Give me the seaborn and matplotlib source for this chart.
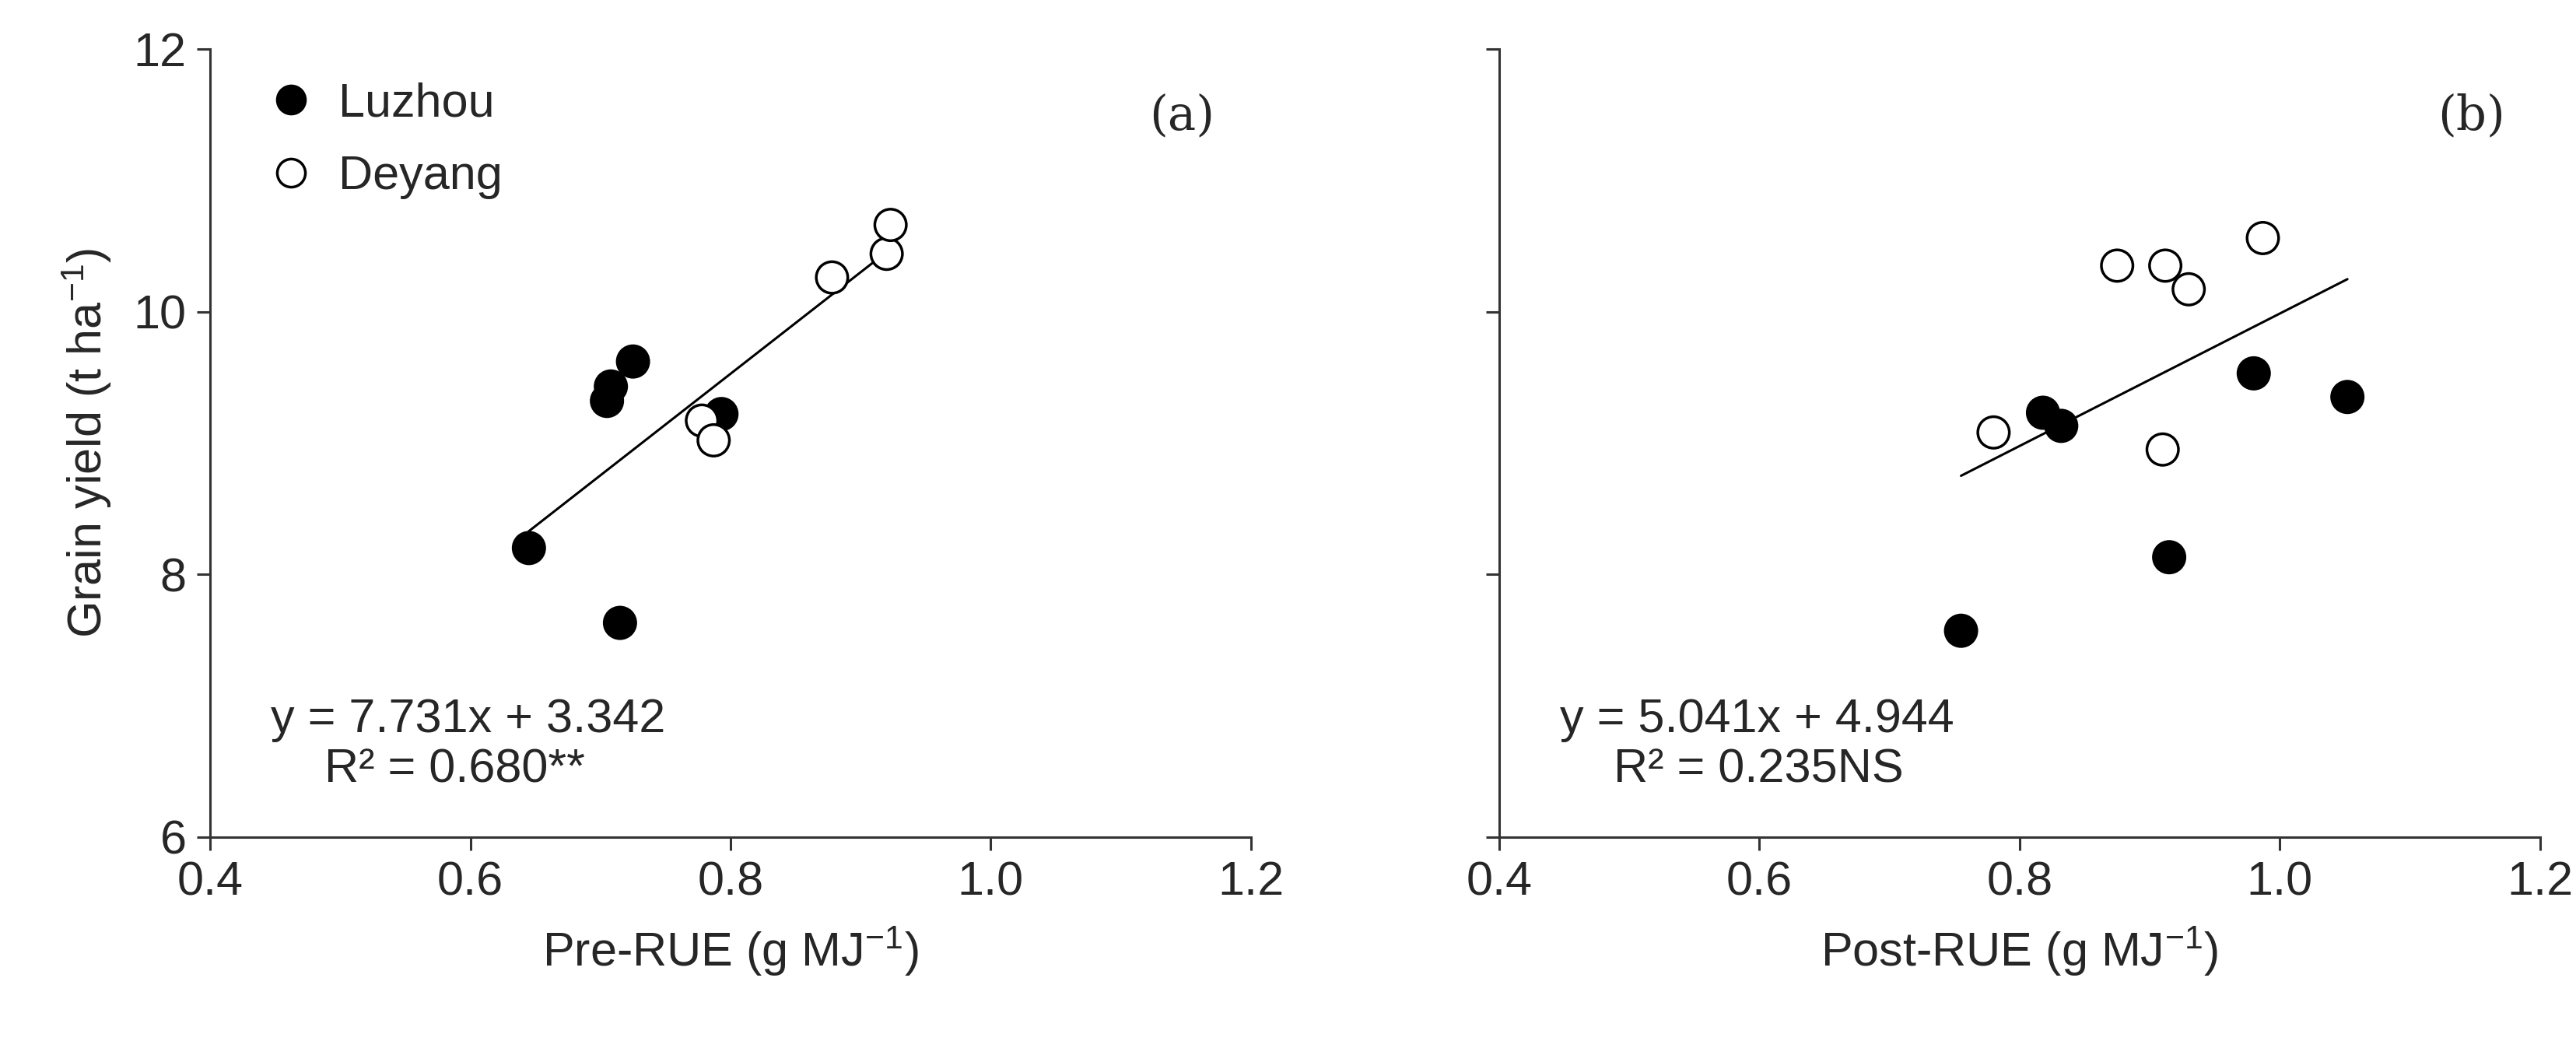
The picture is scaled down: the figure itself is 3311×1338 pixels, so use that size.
import numpy as np
import pandas as pd
import seaborn as sns
import matplotlib.pyplot as plt
from matplotlib.lines import Line2D

sns.set_style("ticks")
plt.rcParams["font.family"] = ["Liberation Sans", "DejaVu Sans"]
plt.rcParams["mathtext.default"] = "regular"

# panel (a): Pre-RUE
pre_luzhou_x = [0.645, 0.705, 0.708, 0.725, 0.793, 0.715]
pre_luzhou_y = [8.20, 9.32, 9.43, 9.62, 9.22, 7.63]
pre_deyang_x = [0.778, 0.787, 0.878, 0.920, 0.923]
pre_deyang_y = [9.17, 9.02, 10.26, 10.44, 10.66]
pre_fit = (7.731, 3.342)

# panel (b): Post-RUE
post_luzhou_x = [0.755, 0.818, 0.832, 0.915, 0.980, 1.052]
post_luzhou_y = [7.57, 9.23, 9.13, 8.13, 9.53, 9.35]
post_deyang_x = [0.780, 0.875, 0.912, 0.930, 0.987, 0.910]
post_deyang_y = [9.08, 10.35, 10.35, 10.17, 10.56, 8.95]
post_fit = (5.041, 4.944)

x_ticks = [0.4, 0.6, 0.8, 1.0, 1.2]
y_ticks = [6, 8, 10, 12]

fs = 44
fig = plt.figure(figsize=(33.11, 13.38), dpi=100)
ax_a = fig.add_axes([0.0816, 0.196, 0.404, 0.757])
ax_b = fig.add_axes([0.582, 0.196, 0.404, 0.757])


def draw(ax, lx, ly, dx, dy, fit, xlabel, tag, eq, r2):
    df = pd.concat([
        pd.DataFrame({"x": lx, "y": ly, "site": "Luzhou"}),
        pd.DataFrame({"x": dx, "y": dy, "site": "Deyang"}),
    ])
    allx = np.array(lx + dx)
    xs = np.array([allx.min(), allx.max()])
    ax.plot(xs, fit[0] * xs + fit[1], color="black", lw=2.2, zorder=1)
    sns.scatterplot(data=df, x="x", y="y", hue="site", palette={"Luzhou": "black", "Deyang": "white"},
                    edgecolor="black", linewidth=2.5, s=850, legend=False, ax=ax, zorder=3)
    ax.set_xlim(0.4, 1.2)
    ax.set_ylim(6, 12)
    ax.set_xticks(x_ticks)
    ax.set_xticklabels([f"{t:.1f}" for t in x_ticks])
    ax.set_yticks(y_ticks)
    for s in ["top", "right"]:
        ax.spines[s].set_visible(False)
    for s in ["left", "bottom"]:
        ax.spines[s].set_linewidth(2.2)
        ax.spines[s].set_color("#333333")
    ax.tick_params(direction="out", length=12, width=2.2, color="#333333", labelsize=fs, pad=10)
    ax.set_xlabel(xlabel, fontsize=fs, labelpad=18)
    ax.text(0.934, 0.915, tag, transform=ax.transAxes, fontsize=fs, ha="center", va="center",
            family=["DejaVu Serif"])
    ax.text(0.058, 0.148, eq, transform=ax.transAxes, fontsize=fs, ha="left", va="center")
    ax.text(0.11, 0.085, r2, transform=ax.transAxes, fontsize=fs, ha="left", va="center")


draw(ax_a, pre_luzhou_x, pre_luzhou_y, pre_deyang_x, pre_deyang_y, pre_fit,
     "Pre-RUE (g MJ$^{-1}$)", "(a)", "y = 7.731x + 3.342", "R² = 0.680**")
draw(ax_b, post_luzhou_x, post_luzhou_y, post_deyang_x, post_deyang_y, post_fit,
     "Post-RUE (g MJ$^{-1}$)", "(b)", "y = 5.041x + 4.944", "R² = 0.235NS")
ax_a.set_ylabel("Grain yield (t ha$^{-1}$)", fontsize=fs, labelpad=18)
ax_b.set_ylabel("")
ax_b.set_yticklabels([])

handles = [
    Line2D([], [], marker="o", ls="", markersize=26, markerfacecolor="black", markeredgecolor="black", mew=2.5),
    Line2D([], [], marker="o", ls="", markersize=26, markerfacecolor="white", markeredgecolor="black", mew=2.5),
]
ax_a.legend(handles, ["Luzhou", "Deyang"], loc="upper left", bbox_to_anchor=(0.0, 1.0), frameon=False,
            fontsize=fs, handletextpad=0.0, labelspacing=0.6, borderaxespad=0.3)

fig.savefig("out.png", dpi=100, facecolor="white")
